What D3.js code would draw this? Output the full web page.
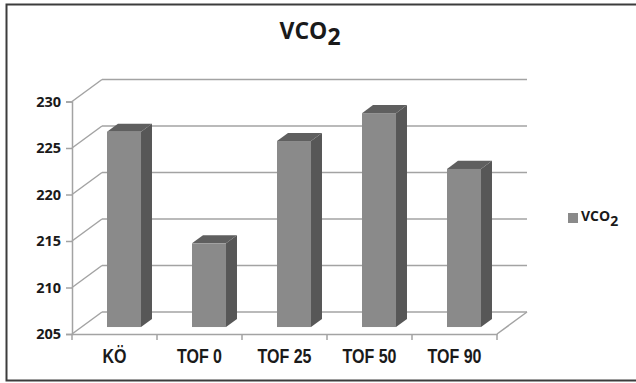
<!DOCTYPE html>
<html>
<head>
<meta charset="utf-8">
<script src="https://cdn.jsdelivr.net/npm/d3@7/dist/d3.min.js"></script>
<style>
  html, body { margin: 0; padding: 0; background: #fff; }
  svg { display: block; }
</style>
</head>
<body>
<svg id="chart" width="636" height="383"></svg>
<script>
// VCO2 by measurement point
const categories = ["KÖ", "TOF 0", "TOF 25", "TOF 50", "TOF 90"];
const vco2Values = [226, 214, 225, 228, 222];
const yTicks = [205, 210, 215, 220, 225, 230];
const seriesName = "VCO";
const seriesSub = "2";

const svg = d3.select("#chart");
const W = 636, H = 383;

// 3D depth vector of the plot box (front plane -> back wall)
const DX = 30, DY = -22;
const depthFront = 0.317, depthBack = 0.683;

const x = d3.scaleBand().domain(categories).range([72, 497]).paddingInner(0).paddingOuter(0);
const y = d3.scaleLinear().domain([205, 230]).range([334, 101.5]);

const gridColor = "#a3a3a3";
const frontColor = "#8a8a8a";
const sideColor = "#575757";
const topColor = "#5f5f5f";

const pt = (px, py, f) => [px + DX * f, py + DY * f];
const poly = pts => pts.map(p => p.join(",")).join(" ");

// outer frame
svg.append("rect")
  .attr("x", 6.5).attr("y", 4.5)
  .attr("width", W + 10).attr("height", 376)
  .attr("fill", "#fff")
  .attr("stroke", "#3c3c3c").attr("stroke-width", 2);

// title
const title = svg.append("text")
  .attr("x", 310).attr("y", 39)
  .attr("text-anchor", "middle")
  .attr("font-family", "'Open Sans', 'Noto Sans', sans-serif")
  .attr("font-weight", 700).attr("font-size", 23)
  .attr("fill", "#1a1a1a");
title.append("tspan").text(seriesName);
title.append("tspan").attr("dy", 6).text(seriesSub);

const grid = svg.append("g")
  .attr("fill", "none").attr("stroke", gridColor).attr("stroke-width", 1.5);

const x0 = x.range()[0], x1 = x.range()[1];
const yBase = y(205);

// side wall diagonals and back wall lines
yTicks.forEach(t => {
  const yy = y(t);
  grid.append("line")
    .attr("x1", x0).attr("y1", yy)
    .attr("x2", x0 + DX).attr("y2", yy + DY);
  grid.append("line")
    .attr("x1", x0 + DX).attr("y1", yy + DY)
    .attr("x2", x1 + DX).attr("y2", yy + DY);
});

// floor right edge
grid.append("line")
  .attr("x1", x1).attr("y1", yBase)
  .attr("x2", x1 + DX).attr("y2", yBase + DY);

// value axis
const yAxis = d3.axisLeft(y).tickValues(yTicks).tickSize(6).tickPadding(5);
const gy = svg.append("g").attr("transform", `translate(${x0},0)`).call(yAxis);
gy.select(".domain").attr("stroke", gridColor).attr("stroke-width", 1.5);
gy.selectAll(".tick line").attr("stroke", gridColor).attr("stroke-width", 1.5);
gy.selectAll(".tick text")
  .attr("font-family", "'Open Sans', 'Noto Sans', sans-serif")
  .attr("font-weight", 700).attr("font-size", 14.5)
  .attr("fill", "#1a1a1a")
  .attr("dy", "0.34em");

// category axis (condensed bold labels)
const xAxis = d3.axisBottom(x).tickSize(0).tickPadding(0);
const gx = svg.append("g").attr("transform", `translate(0,${yBase})`).call(xAxis);
gx.select(".domain").attr("stroke", gridColor).attr("stroke-width", 1.5);
gx.selectAll(".tick text")
  .attr("y", 0)
  .attr("dy", 0)
  .attr("transform", "translate(0,29) scale(0.8,1)")
  .attr("font-family", "'Liberation Sans', Arial, sans-serif")
  .attr("font-weight", 700).attr("font-size", 20)
  .attr("fill", "#1a1a1a");

// category boundary ticks
const bounds = categories.map(c => x(c)).concat([x1]);
gx.selectAll(".bound").data(bounds).enter().append("line")
  .attr("class", "bound")
  .attr("x1", d => d).attr("x2", d => d)
  .attr("y1", 0).attr("y2", 6)
  .attr("stroke", gridColor).attr("stroke-width", 1.5);

// 3D columns
const barW = x.bandwidth() * 0.4;
const bars = svg.append("g");
categories.forEach((c, i) => {
  const v = vco2Values[i];
  const cx = x(c) + x.bandwidth() / 2;
  const bl = cx - barW / 2, br = cx + barW / 2;
  const yt = y(v);
  const g = bars.append("g");
  // right side face
  g.append("polygon")
    .attr("points", poly([pt(br, yt, depthFront), pt(br, yt, depthBack), pt(br, yBase, depthBack), pt(br, yBase, depthFront)]))
    .attr("fill", sideColor);
  // top face
  g.append("polygon")
    .attr("points", poly([pt(bl, yt, depthFront), pt(bl, yt, depthBack), pt(br, yt, depthBack), pt(br, yt, depthFront)]))
    .attr("fill", topColor);
  // front face
  const f0 = pt(bl, yt, depthFront);
  const f1 = pt(br, yBase, depthFront);
  g.append("rect")
    .attr("x", f0[0]).attr("y", f0[1])
    .attr("width", f1[0] - f0[0]).attr("height", f1[1] - f0[1])
    .attr("fill", frontColor);
});

// legend
const lg = svg.append("g").attr("transform", "translate(568,213)");
lg.append("rect").attr("width", 10).attr("height", 10).attr("fill", frontColor);
const lt = lg.append("text")
  .attr("x", 13).attr("y", 7.5)
  .attr("font-family", "'Open Sans', 'Noto Sans', sans-serif")
  .attr("font-weight", 700).attr("font-size", 14)
  .attr("fill", "#1a1a1a");
lt.append("tspan").text(seriesName);
lt.append("tspan").attr("dy", 5).text(seriesSub);
</script>
</body>
</html>
